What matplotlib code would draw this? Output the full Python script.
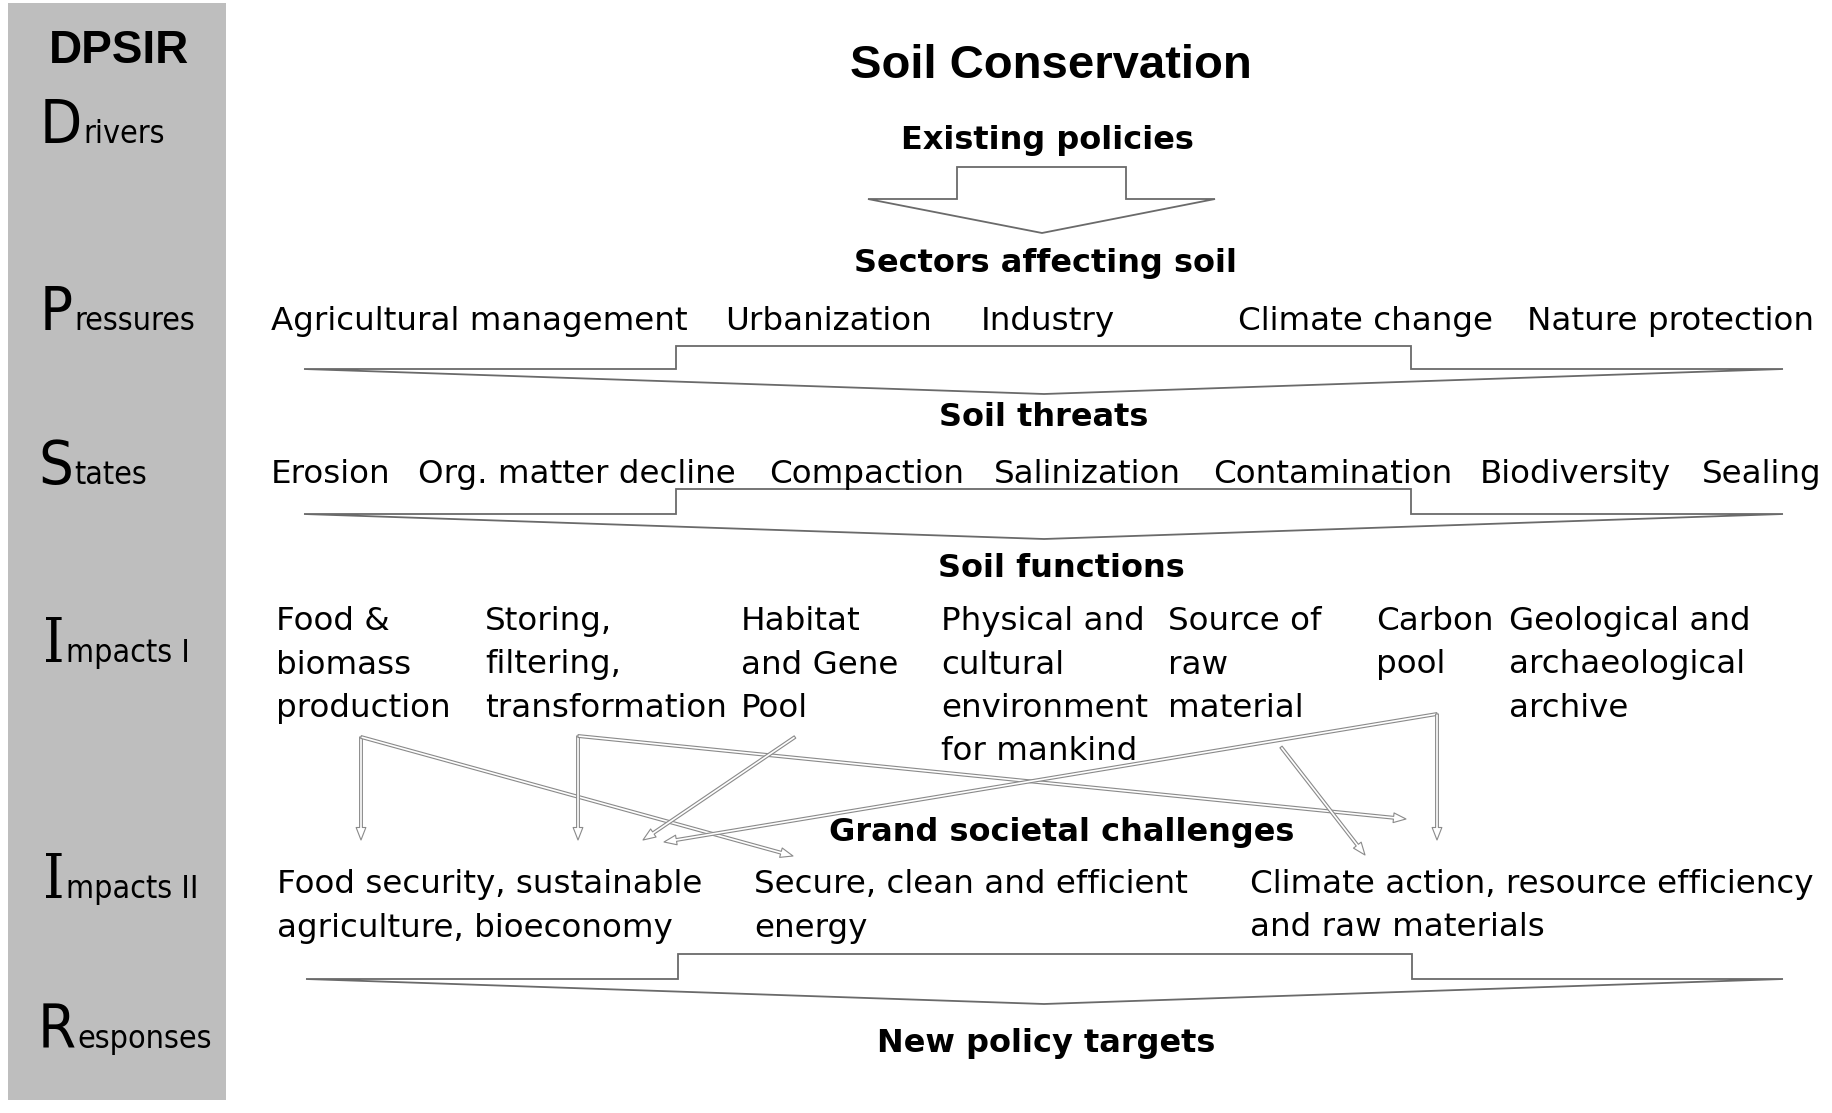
import matplotlib
matplotlib.use("Agg")
import matplotlib.pyplot as plt
from matplotlib.patches import Polygon, Rectangle, FancyArrowPatch

# DPSIR stages in the grey column (big initial + rest of the word)
stage_initials = ["D", "P", "S", "I", "I", "R"]
stage_rests = ["rivers", "ressures", "tates", "mpacts I", "mpacts II", "esponses"]

title = "Soil Conservation"
headings = ["Existing policies", "Sectors affecting soil", "Soil threats",
            "Soil functions", "Grand societal challenges", "New policy targets"]

sectors = ["Agricultural management", "Urbanization", "Industry",
           "Climate change", "Nature protection"]
threats = ["Erosion", "Org. matter decline", "Compaction", "Salinization",
           "Contamination", "Biodiversity", "Sealing"]
functions = ["Food &\nbiomass\nproduction", "Storing,\nfiltering,\ntransformation",
             "Habitat\nand Gene\nPool", "Physical and\ncultural\nenvironment\nfor mankind",
             "Source of\nraw\nmaterial", "Carbon\npool",
             "Geological and\narchaeological\narchive"]
challenges = ["Food security, sustainable\nagriculture, bioeconomy",
              "Secure, clean and efficient\nenergy",
              "Climate action, resource efficiency\nand raw materials"]

# soil function -> societal challenge (indices into the lists above)
links = [(0, 0), (0, 1), (1, 0), (1, 2), (2, 0), (5, 0), (5, 2), (4, 2)]

# ---- layout (pixel coords, y down) ----
W, H = 1833, 1113
stage_x = [40, 40, 38, 43, 43, 38]
stage_y = [143, 330, 484, 662, 898, 1048]
heading_x = [1047, 1046, 1044, 1061, 1062, 1046]
heading_y = [149, 272, 426, 577, 841, 1052]
sector_x = [271, 725, 981, 1238, 1527]
threat_x = [271, 418, 769, 994, 1213, 1480, 1702]
function_x = [276, 485, 741, 941, 1168, 1376, 1509]
challenge_x = [277, 754, 1250]
line_pitch = 43.5

# start / end point of each link arrow
link_xy = [((361, 737), (361, 840)), ((361, 737), (793, 856)),
           ((578, 736), (578, 840)), ((578, 736), (1406, 819)),
           ((795, 737), (643, 840)), ((1437, 714), (664, 842)),
           ((1437, 714), (1437, 840)), ((1281, 747), (1365, 855))]

# block arrows: rect left, rect right, top, wing left, wing right, wing y, tip x, tip y
blocks = [(957, 1126, 167, 868, 1215, 199, 1042, 233),
          (676, 1411, 346, 304, 1783, 369, 1044, 394),
          (676, 1411, 489, 304, 1783, 514, 1044, 539),
          (678, 1412, 954, 306, 1783, 979, 1044, 1004)]

fig = plt.figure(figsize=(W / 100, H / 100), dpi=100)
ax = fig.add_axes([0, 0, 1, 1])
ax.set_xlim(0, W)
ax.set_ylim(H, 0)
ax.axis("off")

ax.add_patch(Rectangle((8, 3), 218, 1097, facecolor="#bebebe", edgecolor="none"))

body = dict(family="DejaVu Sans", fontsize=23.4, va="baseline", ha="left")
bold = dict(family="DejaVu Sans", fontsize=23, fontweight="bold", va="baseline", ha="center")

ax.text(119, 63, "DPSIR", family="Liberation Sans", fontsize=33, fontweight="bold",
        ha="center", va="baseline")
ax.text(1051, 78, title, family="Liberation Sans", fontsize=34, fontweight="bold",
        ha="center", va="baseline")

renderer = fig.canvas.get_renderer()
for x, y, a, b in zip(stage_x, stage_y, stage_initials, stage_rests):
    fam = "DejaVu Serif" if a == "I" else "DejaVu Sans"
    t = ax.text(x, y, a, family=fam, fontstretch="condensed", fontsize=44,
                va="baseline", ha="left")
    bb = t.get_window_extent(renderer)
    x1 = ax.transData.inverted().transform((bb.x1, bb.y0))[0]
    ax.text(x1 + 1, y, b, family="DejaVu Sans", fontstretch="condensed", fontsize=23,
            va="baseline", ha="left")

for x, y, s in zip(heading_x, heading_y, headings):
    ax.text(x, y, s, **bold)

for x, s in zip(sector_x, sectors):
    ax.text(x, 330, s, **body)
for x, s in zip(threat_x, threats):
    ax.text(x, 483, s, **body)
for x, s in zip(function_x, functions):
    for i, line in enumerate(s.split("\n")):
        ax.text(x, 630 + i * line_pitch, line, **body)
for x, s in zip(challenge_x, challenges):
    for i, line in enumerate(s.split("\n")):
        ax.text(x, 893 + i * line_pitch, line, **body)

for rl, rr, top, wl, wr, wy, tx, ty in blocks:
    pts = [(wl, wy), (rl, wy), (rl, top), (rr, top), (rr, wy), (wr, wy), (tx, ty)]
    ax.add_patch(Polygon(pts, closed=True, facecolor="none", edgecolor="#6a6a6a",
                         lw=1.3, joinstyle="miter"))

for (src, dst), (p0, p1) in zip(links, link_xy):
    ax.add_patch(FancyArrowPatch(p0, p1, arrowstyle="simple,head_length=9,head_width=7,tail_width=2",
                                 mutation_scale=1, shrinkA=0, shrinkB=0,
                                 facecolor="white", edgecolor="#8a8a8a", lw=0.8, zorder=3))

fig.savefig("out.png", dpi=100)
